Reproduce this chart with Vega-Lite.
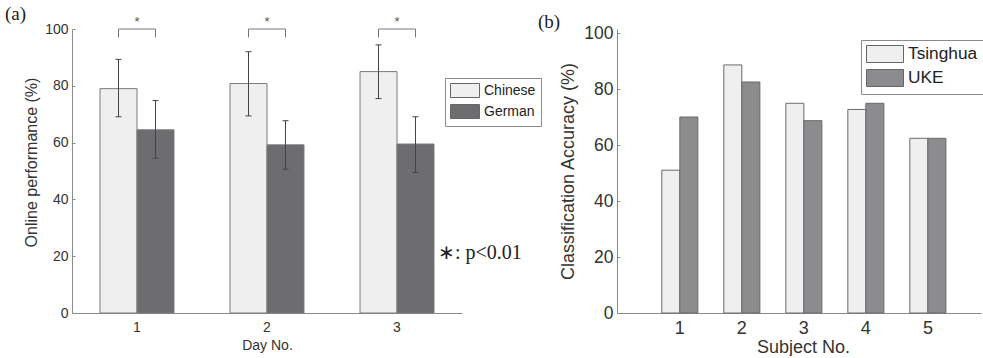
{
  "$schema": "https://vega.github.io/schema/vega-lite/v6.json",
  "background": "white",
  "padding": {"left": 5, "top": 5, "right": 0, "bottom": 0},
  "spacing": 155,
  "bounds": "flush",
  "resolve": {"scale": {"x": "independent", "y": "independent", "xOffset": "independent", "color": "independent"}, "legend": {"color": "independent"}},
  "config": {
    "view": {"stroke": null},
    "font": "Liberation Sans",
    "axis": {"domainColor": "#8a8a8a", "tickColor": "#8a8a8a", "labelColor": "#333333", "titleColor": "#333333", "grid": false, "labelFont": "Liberation Sans", "titleFont": "Liberation Sans", "titleFontWeight": "normal"},
    "title": {"anchor": "start", "frame": "group", "font": "Liberation Serif", "fontSize": 19, "fontWeight": "normal", "color": "#222222"},
    "legend": {"orient": "none", "strokeColor": "#8a8a8a", "fillColor": "white", "padding": 5, "labelFont": "Liberation Sans", "labelColor": "#222222", "symbolStrokeColor": "#666666", "symbolStrokeWidth": 1, "title": null}
  },
  "datasets": {
    "perf": [
      {"day": 1, "group": "Chinese", "value": 79.0, "lo": 69.1, "hi": 89.3},
      {"day": 1, "group": "German", "value": 64.5, "lo": 54.5, "hi": 74.8},
      {"day": 2, "group": "Chinese", "value": 80.8, "lo": 69.4, "hi": 92.0},
      {"day": 2, "group": "German", "value": 59.2, "lo": 50.6, "hi": 67.7},
      {"day": 3, "group": "Chinese", "value": 85.0, "lo": 75.5, "hi": 94.4},
      {"day": 3, "group": "German", "value": 59.5, "lo": 49.5, "hi": 69.1}
    ],
    "brackets": [
      {"day": 1, "group": "Chinese", "y": 97, "o": 1},
      {"day": 1, "group": "Chinese", "y": 100, "o": 2},
      {"day": 1, "group": "German", "y": 100, "o": 3},
      {"day": 1, "group": "German", "y": 97, "o": 4},
      {"day": 2, "group": "Chinese", "y": 97, "o": 1},
      {"day": 2, "group": "Chinese", "y": 100, "o": 2},
      {"day": 2, "group": "German", "y": 100, "o": 3},
      {"day": 2, "group": "German", "y": 97, "o": 4},
      {"day": 3, "group": "Chinese", "y": 97, "o": 1},
      {"day": 3, "group": "Chinese", "y": 100, "o": 2},
      {"day": 3, "group": "German", "y": 100, "o": 3},
      {"day": 3, "group": "German", "y": 97, "o": 4}
    ],
    "stars": [
      {"day": 1, "y": 101, "label": "*"},
      {"day": 2, "y": 101, "label": "*"},
      {"day": 3, "y": 101, "label": "*"}
    ],
    "note": [
      {"day": 3, "y": 21, "label": "∗: p<0.01"}
    ],
    "acc": [
      {"subject": 1, "inst": "Tsinghua", "acc": 51.0},
      {"subject": 1, "inst": "UKE", "acc": 70.0},
      {"subject": 2, "inst": "Tsinghua", "acc": 88.6},
      {"subject": 2, "inst": "UKE", "acc": 82.5},
      {"subject": 3, "inst": "Tsinghua", "acc": 74.9},
      {"subject": 3, "inst": "UKE", "acc": 68.7},
      {"subject": 4, "inst": "Tsinghua", "acc": 72.7},
      {"subject": 4, "inst": "UKE", "acc": 74.9},
      {"subject": 5, "inst": "Tsinghua", "acc": 62.4},
      {"subject": 5, "inst": "UKE", "acc": 62.4}
    ]
  },
  "hconcat": [
    {
      "width": 390,
      "height": 284,
      "title": {"text": "(a)", "dx": -67, "dy": 12},
      "layer": [
        {
          "data": {"name": "perf"},
          "mark": {"type": "bar", "stroke": "#7a7a7a", "strokeWidth": 1},
          "encoding": {
            "x": {"field": "day", "type": "nominal", "scale": {"paddingInner": 0, "paddingOuter": 0},
                  "axis": {"title": "Day No.", "labelAngle": 0, "ticks": false, "labelFontSize": 14, "titleFontSize": 14, "labelPadding": 7, "titlePadding": 4}},
            "xOffset": {"field": "group", "type": "nominal", "scale": {"paddingInner": 0, "paddingOuter": 0.757}},
            "y": {"field": "value", "type": "quantitative", "scale": {"domain": [0, 100], "nice": false},
                  "axis": {"title": "Online performance (%)", "values": [0, 20, 40, 60, 80, 100], "labelFontSize": 14, "titleFontSize": 16, "tickSize": -3, "labelPadding": 7, "titlePadding": 5, "titleY": 133}},
            "color": {"field": "group", "type": "nominal", "scale": {"domain": ["Chinese", "German"], "range": ["#efefef", "#6d6d70"]},
                      "legend": {"legendX": 373, "legendY": 49, "labelFontSize": 14, "symbolType": "M-1,-1H3.143V1H-1Z", "symbolSize": 196, "rowPadding": 2, "labelOffset": 19}}
          }
        },
        {
          "data": {"name": "perf"},
          "mark": {"type": "rule", "stroke": "#444444", "strokeWidth": 1},
          "encoding": {
            "x": {"field": "day", "type": "nominal"},
            "xOffset": {"field": "group", "type": "nominal"},
            "y": {"field": "lo", "type": "quantitative"},
            "y2": {"field": "hi"}
          }
        },
        {
          "data": {"name": "perf"},
          "mark": {"type": "point", "shape": "M-1,0H1", "size": 36, "filled": false, "stroke": "#444444", "strokeWidth": 1, "opacity": 1},
          "encoding": {
            "x": {"field": "day", "type": "nominal"},
            "xOffset": {"field": "group", "type": "nominal"},
            "y": {"field": "lo", "type": "quantitative"}
          }
        },
        {
          "data": {"name": "perf"},
          "mark": {"type": "point", "shape": "M-1,0H1", "size": 36, "filled": false, "stroke": "#444444", "strokeWidth": 1, "opacity": 1},
          "encoding": {
            "x": {"field": "day", "type": "nominal"},
            "xOffset": {"field": "group", "type": "nominal"},
            "y": {"field": "hi", "type": "quantitative"}
          }
        },
        {
          "data": {"name": "brackets"},
          "mark": {"type": "line", "stroke": "#777777", "strokeWidth": 1},
          "encoding": {
            "x": {"field": "day", "type": "nominal"},
            "xOffset": {"field": "group", "type": "nominal"},
            "y": {"field": "y", "type": "quantitative"},
            "detail": {"field": "day"},
            "order": {"field": "o"}
          }
        },
        {
          "data": {"name": "stars"},
          "mark": {"type": "text", "fontSize": 13, "color": "#555555", "baseline": "alphabetic", "align": "center"},
          "encoding": {
            "x": {"field": "day", "type": "nominal"},
            "y": {"field": "y", "type": "quantitative"},
            "text": {"field": "label"}
          }
        },
        {
          "data": {"name": "note"},
          "mark": {"type": "text", "font": "Liberation Serif", "fontSize": 20, "color": "#222222", "baseline": "middle", "align": "left", "dx": 41},
          "encoding": {
            "x": {"field": "day", "type": "nominal"},
            "y": {"field": "y", "type": "quantitative"},
            "text": {"field": "label"}
          }
        }
      ]
    },
    {
      "width": 364,
      "height": 284,
      "title": {"text": "(b)", "dx": -79, "dy": 12},
      "data": {"name": "acc"},
      "mark": {"type": "bar", "stroke": "#6a6a6a", "strokeWidth": 1},
      "encoding": {
        "x": {"field": "subject", "type": "nominal", "scale": {"paddingInner": 0, "paddingOuter": 0.435, "align": 0.59},
              "axis": {"title": "Subject No.", "labelAngle": 0, "ticks": false, "labelFontSize": 18, "titleFontSize": 18, "labelPadding": 6, "titlePadding": 1, "titleX": 186}},
        "xOffset": {"field": "inst", "type": "nominal", "scale": {"paddingInner": 0, "paddingOuter": 0.72}},
        "y": {"field": "acc", "type": "quantitative", "scale": {"domain": [0, 101.43], "nice": false},
              "axis": {"title": "Classification Accuracy (%)", "values": [0, 20, 40, 60, 80, 100], "labelFontSize": 17.5, "titleFontSize": 18, "tickSize": -3, "labelPadding": 7, "titlePadding": 6}},
        "color": {"field": "inst", "type": "nominal", "scale": {"domain": ["Tsinghua", "UKE"], "range": ["#efefef", "#8c8c8e"]},
                  "legend": {"legendX": 244, "legendY": 11, "labelFontSize": 17.3, "symbolType": "M-1,-1H3.353V1H-1Z", "symbolSize": 289, "rowPadding": 2, "labelOffset": 24}}
      }
    }
  ]
}
